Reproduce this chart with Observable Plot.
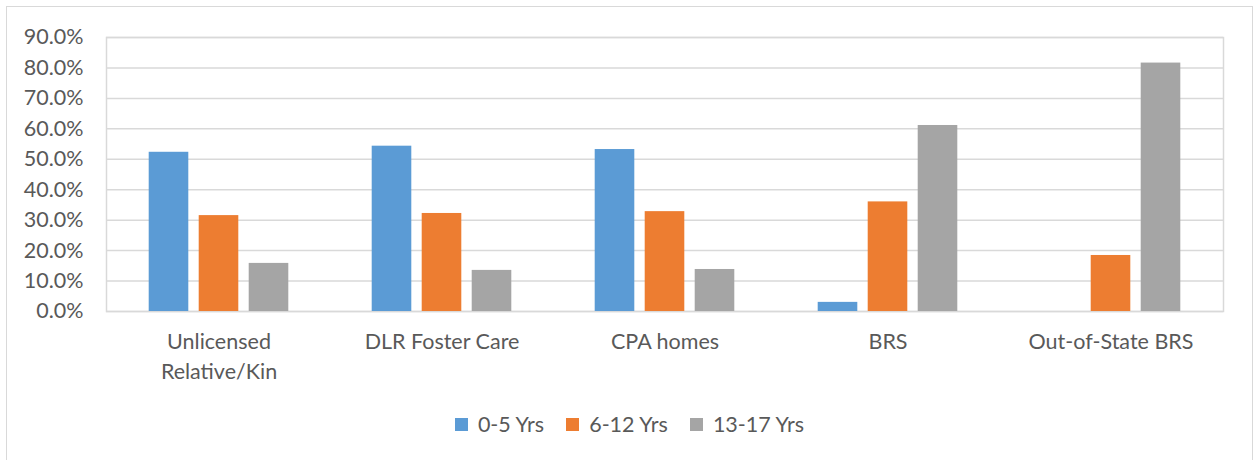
<!DOCTYPE html>
<html>
<head>
<meta charset="utf-8">
<script src="https://cdn.jsdelivr.net/npm/d3@7"></script>
<script src="https://cdn.jsdelivr.net/npm/@observablehq/plot@0.6"></script>
<style>
  html, body { margin: 0; padding: 0; background: #fff; width: 1254px; height: 460px; overflow: hidden; }
  #border { position: absolute; left: 6px; top: 6px; width: 1247px; height: 470px; border: 1.5px solid #d9d9d9; box-sizing: border-box; }
  #chart { position: absolute; left: 0; top: 0; }
  #legend { position: absolute; left: 7px; width: 1245px; top: 411px; height: 26px; display: flex; justify-content: center; align-items: center;
            font-family: Lato, "Open Sans", sans-serif; font-size: 21.5px; color: #595959; }
  .item { display: flex; align-items: center; margin: 0 11px; }
  .sw { width: 13px; height: 13px; margin-right: 10px; }
</style>
</head>
<body>
<div id="border"></div>
<div id="chart"></div>
<div id="legend"></div>
<script>
const categories = ["Unlicensed\nRelative/Kin", "DLR Foster Care", "CPA homes", "BRS", "Out-of-State BRS"];
const seriesNames = ["0-5 Yrs", "6-12 Yrs", "13-17 Yrs"];
const seriesColors = ["#5B9BD5", "#ED7D31", "#A5A5A5"];
const age0to5 = [52.3, 54.3, 53.2, 3.0, 0.0];
const age6to12 = [31.5, 32.2, 32.8, 36.0, 18.4];
const age13to17 = [15.8, 13.5, 13.8, 61.1, 81.6];
const yTicks = [0, 10, 20, 30, 40, 50, 60, 70, 80, 90];

const seriesValues = [age0to5, age6to12, age13to17];

const W = 1254, H = 395;
const mL = 106, mR = 31, mT = 37, mB = 84;
const band = (W - mL - mR) / categories.length;
const barW = 40, gap = 10;
const groupW = 3 * barW + 2 * gap;
const off0 = (band - groupW) / 2;

const barMarks = seriesValues.map((vals, s) => {
  const rows = categories.map((c, i) => ({cat: c, value: vals[i]}));
  const left = off0 + s * (barW + gap);
  return Plot.barY(rows, {
    x: "cat", y: "value", fill: seriesColors[s],
    insetLeft: left, insetRight: band - left - barW
  });
});

const chart = Plot.plot({
  width: W, height: H,
  marginLeft: mL, marginRight: mR, marginTop: mT, marginBottom: mB,
  style: {fontFamily: "Lato, 'Open Sans', sans-serif", fontSize: "21.5px", color: "#595959", background: "transparent"},
  x: {domain: categories, padding: 0, label: null},
  y: {domain: [0, 90], label: null},
  marks: [
    Plot.gridY(yTicks, {stroke: "#d9d9d9", strokeOpacity: 1, strokeWidth: 1.5}),
    Plot.frame({stroke: "#d9d9d9", strokeWidth: 1.5}),
    ...barMarks,
    Plot.axisY(yTicks, {tickSize: 0, tickPadding: 23, tickFormat: d => d.toFixed(1) + "%", fill: "#595959", fontSize: 21.5, label: null}),
    Plot.axisX({tickSize: 0, tickPadding: 16, lineHeight: 1.4, fill: "#595959", fontSize: 21.5, label: null})
  ]
});
document.getElementById("chart").appendChild(chart);

const legend = document.getElementById("legend");
seriesNames.forEach((n, i) => {
  const it = document.createElement("div");
  it.className = "item";
  const sw = document.createElement("div");
  sw.className = "sw";
  sw.style.background = seriesColors[i];
  const tx = document.createElement("span");
  tx.textContent = n;
  it.appendChild(sw); it.appendChild(tx);
  legend.appendChild(it);
});
</script>
</body>
</html>
